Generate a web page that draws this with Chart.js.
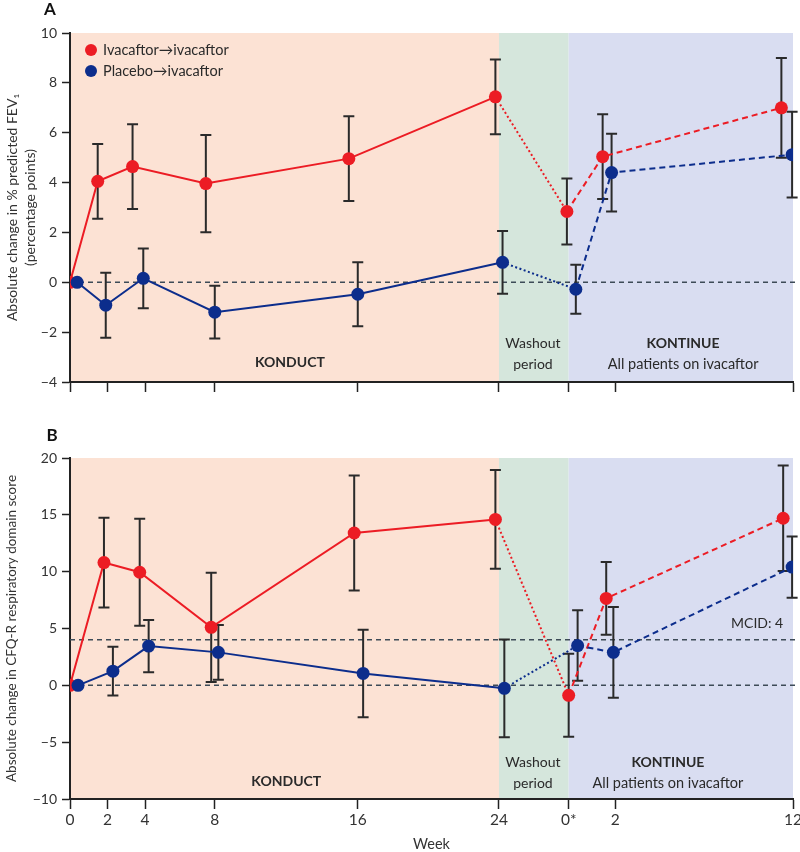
<!DOCTYPE html>
<html>
<head>
<meta charset="utf-8">
<script src="https://cdn.jsdelivr.net/npm/chart.js@4.4.1/dist/chart.umd.min.js"></script>
<style>
  body { margin: 0; background: #fff; }
  #wrap { position: relative; width: 800px; height: 852px; }
  canvas { position: absolute; left: 0; }
</style>
</head>
<body>
<div id="wrap">
  <canvas id="chartA" width="800" height="420" style="top:0"></canvas>
  <canvas id="chartB" width="800" height="432" style="top:420px"></canvas>
</div>
<script>
// visit labels along the week axis (KONDUCT weeks, then KONTINUE weeks)
const weekLabels = ['0', '2', '4', '8', '16', '24', '0*', '2', '12'];
// where each visit sits on the shared timeline (washout squeezed between 24 and 0*)
const weekTicks = [0, 2.1, 4.2, 8.1, 16.1, 24, 27.9, 30.5, 40.45];
// period boundaries: KONDUCT | washout | KONTINUE
const periodEdges = [0, 24, 27.9, 40.45];

// Panel A - % predicted FEV1
const fevIvaX = [0, 1.55, 3.5, 7.6, 15.6, 23.8, 27.8, 29.8, 39.8];
const fevIvaMean = [0, 4.05, 4.64, 3.96, 4.96, 7.44, 2.84, 5.04, 7.0];
const fevIvaErr = [0, 1.5, 1.7, 1.95, 1.7, 1.5, 1.32, 1.7, 2.0];
const fevPboX = [0.4, 2.0, 4.1, 8.1, 16.1, 24.2, 28.3, 30.3, 40.4];
const fevPboMean = [0, -0.92, 0.16, -1.2, -0.48, 0.8, -0.28, 4.4, 5.12];
const fevPboErr = [0, 1.3, 1.2, 1.06, 1.28, 1.26, 0.98, 1.56, 1.72];

// Panel B - CFQ-R respiratory domain
const cfqIvaX = [0, 1.9, 3.9, 7.9, 15.9, 23.8, 27.9, 30.0, 39.9];
const cfqIvaMean = [0, 10.8, 9.95, 5.1, 13.4, 14.6, -0.88, 7.65, 14.7];
const cfqIvaErr = [0, 3.95, 4.7, 4.8, 5.05, 4.35, 3.65, 3.2, 4.65];
const cfqPboX = [0.45, 2.4, 4.4, 8.3, 16.4, 24.3, 28.4, 30.4, 40.4];
const cfqPboMean = [0, 1.25, 3.45, 2.9, 1.05, -0.26, 3.5, 2.9, 10.4];
const cfqPboErr = [0, 2.15, 2.3, 2.4, 3.85, 4.3, 3.1, 4.0, 2.7];

const mcid = 4;

const RED = '#ec1c24';
const BLUE = '#0c2d8c';
const INK = '#2a2a2a';
const bandColors = ['#fce2d4', '#d5e6dc', '#d9ddf1'];

Chart.defaults.font.family = 'Lato, "Open Sans", sans-serif';
Chart.defaults.color = '#333';

// backgrounds, dashed reference lines, error bars, period captions, legend
const deco = {
  id: 'deco',
  beforeDraw(chart) {
    const { ctx, chartArea: a, scales: { x } } = chart;
    ctx.save();
    for (let i = 0; i < periodEdges.length - 1; i++) {
      const x0 = x.getPixelForValue(periodEdges[i]);
      const x1 = x.getPixelForValue(periodEdges[i + 1]);
      ctx.fillStyle = bandColors[i];
      ctx.fillRect(x0, a.top, x1 - x0, a.bottom - a.top);
    }
    ctx.restore();
  },
  beforeDatasetsDraw(chart, args, o) {
    const { ctx, chartArea: a, scales: { x, y } } = chart;
    ctx.save();
    ctx.strokeStyle = '#3d4b57';
    ctx.lineWidth = 1.5;
    ctx.setLineDash([5, 4]);
    o.refLines.forEach(v => {
      const py = y.getPixelForValue(v);
      ctx.beginPath();
      ctx.moveTo(a.left, py);
      ctx.lineTo(a.right + 4, py);
      ctx.stroke();
    });
    ctx.setLineDash([]);

    ctx.fillStyle = INK;
    ctx.textBaseline = 'middle';
    o.captions.forEach(c => {
      ctx.font = c.font;
      ctx.textAlign = c.align || 'center';
      ctx.fillText(c.text, x.getPixelForValue(c.x), y.getPixelForValue(c.y));
    });

    ctx.strokeStyle = INK;
    ctx.lineWidth = 2;
    o.errors.forEach((err, di) => {
      const meta = chart.getDatasetMeta(di);
      const pts = chart.data.datasets[di].data;
      err.forEach((e, j) => {
        if (!e) return;
        const px = meta.data[j].x;
        const top = y.getPixelForValue(pts[j].y + e);
        const bot = y.getPixelForValue(pts[j].y - e);
        ctx.beginPath();
        ctx.moveTo(px, top); ctx.lineTo(px, bot);
        ctx.moveTo(px - 5.5, top); ctx.lineTo(px + 5.5, top);
        ctx.moveTo(px - 5.5, bot); ctx.lineTo(px + 5.5, bot);
        ctx.stroke();
      });
    });
    ctx.restore();
  },
  afterDraw(chart, args, o) {
    const { ctx, chartArea: a } = chart;
    ctx.save();
    ctx.fillStyle = '#111';
    ctx.font = 'bold 17px Lato, sans-serif';
    ctx.textAlign = 'center';
    ctx.textBaseline = 'middle';
    ctx.fillText(o.letter, o.letterX, o.letterY);

    if (o.legend) {
      ctx.textAlign = 'left';
      ctx.font = '14.5px Lato, sans-serif';
      chart.data.datasets.forEach((ds, i) => {
        const cy = a.top + 17 + i * 21;
        ctx.fillStyle = ds.borderColor;
        ctx.beginPath();
        ctx.arc(a.left + 21, cy, 6, 0, Math.PI * 2);
        ctx.fill();
        ctx.fillStyle = INK;
        ctx.fillText(ds.label, a.left + 33, cy);
      });
    }
    ctx.restore();
  }
};

// solid in KONDUCT, dotted across washout, dashed in KONTINUE
const segDash = ctx => ctx.p0DataIndex === 5 ? [2, 2.5] : (ctx.p0DataIndex >= 6 ? [6, 4] : undefined);

function series(label, xs, ys, color, order) {
  return {
    label: label,
    data: xs.map((x, i) => ({ x: x, y: ys[i] })),
    borderColor: color,
    backgroundColor: color,
    pointBackgroundColor: color,
    pointBorderWidth: 0,
    pointRadius: 6.5,
    borderWidth: 2,
    tension: 0,
    order: order,
    segment: { borderDash: segDash }
  };
}

function buildChart(id, p) {
  return new Chart(document.getElementById(id), {
    type: 'line',
    data: {
      datasets: [
        series('Ivacaftor→ivacaftor', p.ivaX, p.ivaMean, RED, 2),
        series('Placebo→ivacaftor', p.pboX, p.pboMean, BLUE, 1)
      ]
    },
    options: {
      responsive: false,
      animation: false,
      layout: { padding: { top: p.padTop, right: 7, left: 0, bottom: 0 } },
      plugins: {
        legend: { display: false },
        tooltip: { enabled: false },
        deco: {
          errors: [p.ivaErr, p.pboErr],
          refLines: p.refLines,
          captions: p.captions,
          letter: p.letter,
          letterX: p.letterX,
          letterY: p.letterY,
          legend: p.legend
        }
      },
      scales: {
        x: {
          type: 'linear',
          min: 0,
          max: 40.45,
          afterBuildTicks: s => { s.ticks = weekTicks.map(v => ({ value: v })); },
          afterFit: s => {
            s.height = p.xHeight;
            // let the last week label run off the edge, as in the print
            s.paddingLeft = 0;
            s.paddingRight = 0;
          },
          ticks: {
            autoSkip: false,
            maxRotation: 0,
            padding: 2,
            font: { size: 15.5 },
            callback: (v, i) => p.showWeeks ? weekLabels[i] : ''
          },
          grid: { drawOnChartArea: false, tickLength: 10, tickColor: '#222', tickWidth: 1.5 },
          border: { color: '#222', width: 2 },
          title: {
            display: p.showWeeks,
            text: 'Week',
            font: { size: 14.5, lineHeight: 1.0 },
            padding: { top: 0, bottom: 0 }
          }
        },
        y: {
          min: p.yMin,
          max: p.yMax,
          afterFit: s => { s.width = 70; },
          ticks: {
            stepSize: p.yStep,
            padding: 5,
            font: { size: 14 },
            callback: v => String(v).replace('-', '\u2212')
          },
          grid: { drawOnChartArea: false, tickLength: 8, tickColor: '#222', tickWidth: 1.5 },
          border: { color: '#222', width: 2 },
          title: {
            display: true,
            text: p.yTitle,
            font: { size: p.yTitleSize, lineHeight: 1.3 },
            padding: { top: 3, bottom: 0 }
          }
        }
      }
    },
    plugins: [deco]
  });
}

buildChart('chartA', {
  ivaX: fevIvaX, ivaMean: fevIvaMean, ivaErr: fevIvaErr,
  pboX: fevPboX, pboMean: fevPboMean, pboErr: fevPboErr,
  yMin: -4, yMax: 10, yStep: 2,
  yTitle: ['Absolute change in % predicted FEV\u2081', '(percentage points)'],
  yTitleSize: 14,
  padTop: 33, xHeight: 38, showWeeks: false,
  refLines: [0],
  letter: 'A', letterX: 50, letterY: 10, legend: true,
  captions: [
    { text: 'KONDUCT', x: 12.3, y: -3.2, font: 'bold 14px Lato, sans-serif' },
    { text: 'Washout', x: 25.9, y: -2.44, font: '14px Lato, sans-serif' },
    { text: 'period', x: 25.9, y: -3.28, font: '14px Lato, sans-serif' },
    { text: 'KONTINUE', x: 34.3, y: -2.44, font: 'bold 14px Lato, sans-serif' },
    { text: 'All patients on ivacaftor', x: 34.3, y: -3.28, font: '14.5px Lato, sans-serif' }
  ]
});

buildChart('chartB', {
  ivaX: cfqIvaX, ivaMean: cfqIvaMean, ivaErr: cfqIvaErr,
  pboX: cfqPboX, pboMean: cfqPboMean, pboErr: cfqPboErr,
  yMin: -10, yMax: 20, yStep: 5,
  yTitle: 'Absolute change in CFQ-R respiratory domain score',
  yTitleSize: 13.5,
  padTop: 38, xHeight: 53, showWeeks: true,
  refLines: [0, mcid],
  letter: 'B', letterX: 52, letterY: 16, legend: false,
  captions: [
    { text: 'KONDUCT', x: 12.1, y: -8.5, font: 'bold 14px Lato, sans-serif' },
    { text: 'Washout', x: 25.9, y: -6.8, font: '14px Lato, sans-serif' },
    { text: 'period', x: 25.9, y: -8.6, font: '14px Lato, sans-serif' },
    { text: 'KONTINUE', x: 33.45, y: -6.8, font: 'bold 14px Lato, sans-serif' },
    { text: 'All patients on ivacaftor', x: 33.45, y: -8.6, font: '14.5px Lato, sans-serif' },
    { text: 'MCID: 4', x: 39.9, y: 5.4, font: '14px Lato, sans-serif', align: 'right' }
  ]
});
</script>
</body>
</html>
